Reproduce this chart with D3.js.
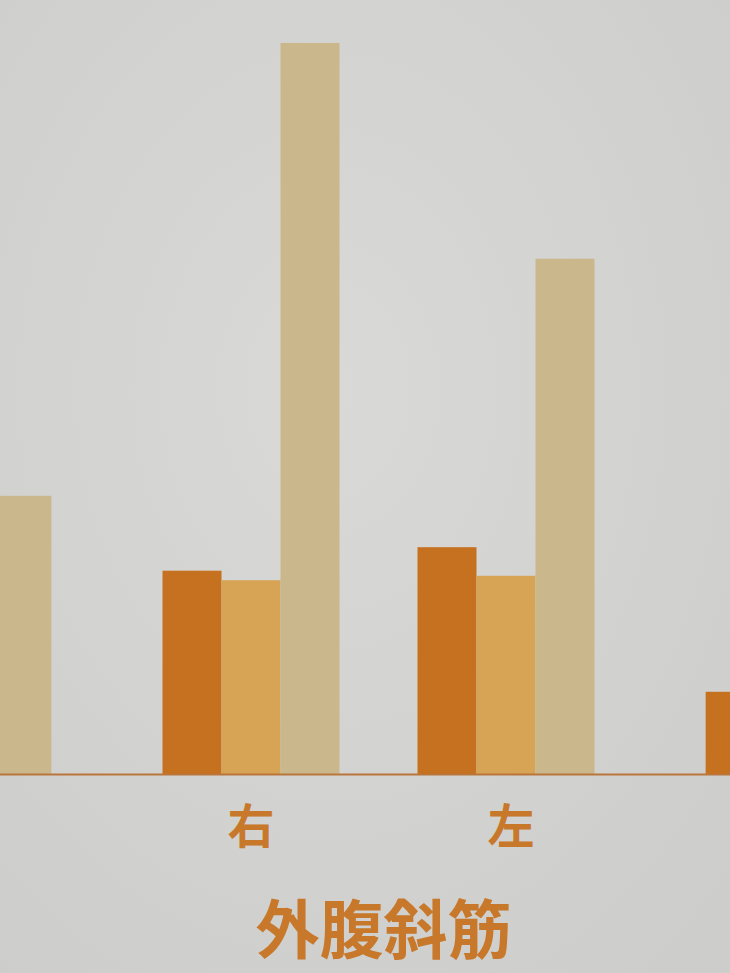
<!DOCTYPE html>
<html>
<head>
<meta charset="utf-8">
<script src="https://cdn.jsdelivr.net/npm/d3@7"></script>
<style>
  html, body { margin: 0; padding: 0; background: #d3d3d1; }
  svg { display: block; }
</style>
</head>
<body>
<svg id="chart" width="730" height="973"></svg>
<script>
// ---- data ----
// muscle sections (only the middle one is fully visible; neighbours are cropped)
const muscles = ["前", "外腹斜筋", "次"];
const sides = ["右", "左"];
// visible groups: [muscle index, side index]
const groups = [[0, 1], [1, 0], [1, 1], [2, 0]];
const seriesNames = ["s1", "s2", "s3"];
// values per group (null = outside the picture)
const series1 = [null, 27.7, 30.9, 11.2];
const series2 = [null, 26.4, 27.0, null];
const series3 = [37.9, 99.6, 70.2, null];
const title = "外腹斜筋";

// ---- layout ----
const W = 730, H = 973;
const baseY = 774;
const gapFrac = 0.13;            // extra space between muscle sections
const slotPx = 255;              // distance between group centres inside a section
const barW = 59;
const colors = ["#c5711f", "#d7a354", "#cab88c"];
const textColor = "#c8782a";

const svg = d3.select("#chart");

// background with subtle paper shading
const defs = svg.append("defs");
const rg = defs.append("radialGradient").attr("id", "paper")
  .attr("cx", "45%").attr("cy", "40%").attr("r", "75%");
rg.append("stop").attr("offset", "0%").attr("stop-color", "#d9d9d8");
rg.append("stop").attr("offset", "100%").attr("stop-color", "#cdcdcb");
svg.append("rect").attr("width", W).attr("height", H).attr("fill", "url(#paper)");

// slot position of each group
const slotOf = g => g[0] * (2 + gapFrac) + g[1];
const x0 = 251 - slotOf([1, 0]) * slotPx;
const x = d3.scaleLinear().domain([0, 1]).range([x0, x0 + slotPx]);
const y = d3.scaleLinear().domain([0, 100]).range([baseY, 40]);
const inner = d3.scaleBand().domain(seriesNames).range([-1.5 * barW, 1.5 * barW]).padding(0);

const allSeries = [series1, series2, series3];

const gSel = svg.append("g").selectAll("g.grp")
  .data(groups.map((g, i) => ({ g, i })))
  .join("g")
  .attr("class", "grp")
  .attr("transform", d => `translate(${x(slotOf(d.g))},0)`);

gSel.selectAll("rect")
  .data(d => seriesNames.map((s, k) => ({ s, k, v: allSeries[k][d.i] })).filter(e => e.v != null))
  .join("rect")
  .attr("x", e => inner(e.s))
  .attr("width", inner.bandwidth())
  .attr("y", e => y(e.v))
  .attr("height", e => y(0) - y(e.v))
  .attr("fill", e => colors[e.k]);

// baseline
svg.append("line")
  .attr("x1", 0).attr("x2", W)
  .attr("y1", y(0) + 0.5).attr("y2", y(0) + 0.5)
  .attr("stroke", "#b9763a").attr("stroke-width", 1.8);

// side labels under the visible muscle section
const mid = 1;
svg.append("g").selectAll("text")
  .data(sides)
  .join("text")
  .attr("x", (s, j) => x(slotOf([mid, j])) + (j === 1 ? 5 : 0))
  .attr("y", 822)
  .attr("text-anchor", "middle")
  .attr("dominant-baseline", "central")
  .attr("font-family", "'Noto Sans CJK JP', 'Noto Sans CJK SC', sans-serif")
  .attr("font-weight", 700)
  .attr("font-size", 47)
  .attr("fill", textColor)
  .text(s => s);

svg.append("text")
  .attr("x", (x(slotOf([mid, 0])) + x(slotOf([mid, 1]))) / 2 + 5)
  .attr("y", 925)
  .attr("text-anchor", "middle")
  .attr("dominant-baseline", "central")
  .attr("font-family", "'Noto Sans CJK JP', 'Noto Sans CJK SC', sans-serif")
  .attr("font-weight", 700)
  .attr("font-size", 64)
  .attr("fill", textColor)
  .text(title);
</script>
</body>
</html>
